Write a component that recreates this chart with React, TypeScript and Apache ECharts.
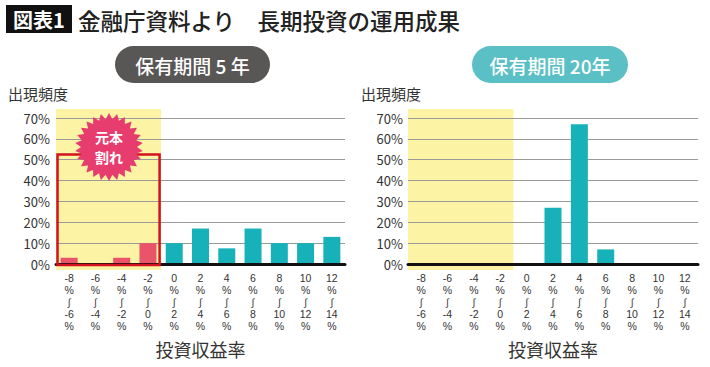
import React, { useEffect, useRef } from "react";
import * as echarts from "echarts";

const categories = [
  "-8%〜-6%", "-6%〜-4%", "-4%〜-2%", "-2%〜0%", "0%〜2%", "2%〜4%",
  "4%〜6%", "6%〜8%", "8%〜10%", "10%〜12%", "12%〜14%",
];
const hold5 = [3, 0, 3, 10, 10, 17, 7.5, 17, 10, 10, 13];
const hold20 = [0, 0, 0, 0, 0, 27, 67, 7, 0, 0, 0];
const lossCount = 4;
const yMax = 70;
const yInterval = 10;
const lossShare5 = 52.5;

const FONT = '"Noto Sans CJK JP", "Noto Sans", "DejaVu Sans", sans-serif';
const LABEL_FONT = '"Liberation Sans", "DejaVu Sans", sans-serif';
const TEAL = "#17b1ba";
const PINK = "#e9546b";
const YELLOW = "#fdf3a4";

function fmtLabel(s: string) {
  const [a, b] = s.split("〜");
  const part = (p: string) => "{n|" + p.replace("%", "") + "}\n{n|%}";
  return part(a) + "\n{t|∫}\n" + part(b);
}

function makeXAxis(gridIndex: number) {
  return {
    type: "category",
    gridIndex,
    data: categories,
    axisTick: { show: false },
    axisLine: { lineStyle: { color: "#111", width: 3 } },
    axisLabel: {
      interval: 0,
      formatter: fmtLabel,
      margin: 8,
      rich: {
        n: { fontFamily: LABEL_FONT, fontSize: 10.5, lineHeight: 11.9, color: "#333" },
        t: { fontFamily: LABEL_FONT, fontSize: 10.5, lineHeight: 11.9, color: "#444" },
      },
    },
    name: "投資収益率",
    nameLocation: "middle",
    nameGap: 76,
    nameTextStyle: { fontFamily: FONT, fontSize: 18, color: "#333" },
    z: 3,
  };
}

function makeYAxis(gridIndex: number, margin: number) {
  return {
    type: "value",
    gridIndex,
    min: 0,
    max: yMax,
    interval: yInterval,
    axisLine: { show: false },
    axisTick: { show: false },
    splitLine: { lineStyle: { color: "#9a9a9a", width: 1 } },
    axisLabel: {
      formatter: "{value}%",
      fontFamily: FONT,
      fontSize: 13,
      color: "#333",
      margin,
    },
  };
}

export default function App() {
  const ref = useRef<HTMLDivElement>(null);
  useEffect(() => {
    document.body.style.margin = "0";
    const chart = echarts.init(ref.current!, undefined, { renderer: "svg" });
    chart.setOption({
      animation: false,
      backgroundColor: "#fff",
      grid: [
        { left: 56, right: 365, top: 118, bottom: 103 },
        { left: 408, right: 12, top: 118, bottom: 103 },
      ],
      xAxis: [makeXAxis(0), makeXAxis(1)],
      yAxis: [makeYAxis(0, 6), makeYAxis(1, 5)],
      series: [
        {
          type: "bar",
          xAxisIndex: 0,
          yAxisIndex: 0,
          barWidth: 17,
          z: 2,
          data: hold5.map((v, i) => ({
            value: v,
            itemStyle: { color: i < lossCount ? PINK : TEAL },
          })),
        },
        {
          type: "bar",
          xAxisIndex: 1,
          yAxisIndex: 1,
          barWidth: 17,
          z: 2,
          data: hold20.map((v, i) => ({
            value: v,
            itemStyle: { color: i < lossCount ? PINK : TEAL },
          })),
        },
      ],
    });

    const px = (ax: number, cat: string) =>
      chart.convertToPixel({ xAxisIndex: ax } as any, cat) as unknown as number;
    const py = (ax: number, v: number) =>
      chart.convertToPixel({ yAxisIndex: ax } as any, v) as unknown as number;

    const graphics: any[] = [];
    [0, 1].forEach((ax) => {
      const c0 = px(ax, categories[0]);
      const c1 = px(ax, categories[1]);
      const band = c1 - c0;
      const left = c0 - band / 2;
      const right = px(ax, categories[lossCount - 1]) + band / 2;
      const top = py(ax, yMax) - 9;
      const bottom = py(ax, 0) + 6;
      graphics.push({
        type: "rect",
        z: -10,
        shape: { x: left, y: top, width: right - left, height: bottom - top },
        style: { fill: YELLOW },
      });
      if (ax === 0) {
        const rt = py(ax, lossShare5);
        const rb = py(ax, 0) + 1;
        graphics.push({
          type: "rect",
          z: 50,
          shape: { x: left + 1.5, y: rt, width: right - left - 3, height: rb - rt },
          style: { fill: "none", stroke: "#d2121e", lineWidth: 2.5 },
        });
      }
    });

    // starburst
    const cx = 109, cy = 147, ro = 34, ri = 28, n = 26;
    const pts: number[][] = [];
    for (let i = 0; i < n * 2; i++) {
      const r = i % 2 === 0 ? ro : ri;
      const a = (Math.PI * i) / n - Math.PI / 2;
      pts.push([cx + r * Math.cos(a), cy + r * Math.sin(a)]);
    }
    graphics.push({
      type: "polygon",
      z: 60,
      shape: { points: pts },
      style: { fill: "#e73c6e" },
    });
    graphics.push({
      type: "text",
      z: 61,
      x: cx,
      y: cy,
      style: {
        text: "元本\n割れ",
        fill: "#fff",
        font: `bold 14px ${FONT}`,
        lineHeight: 20.5,
        align: "center",
        verticalAlign: "middle",
      },
    });

    // title
    graphics.push({
      type: "rect",
      z: 60,
      shape: { x: 6, y: 5, width: 66, height: 28 },
      style: { fill: "#111" },
    });
    graphics.push({
      type: "text",
      z: 61,
      x: 39,
      y: 19,
      style: {
        text: "図表1",
        fill: "#fff",
        font: `bold 20px ${FONT}`,
        align: "center",
        verticalAlign: "middle",
      },
    });
    graphics.push({
      type: "text",
      z: 61,
      x: 78,
      y: 20,
      style: {
        text: "金融庁資料より　長期投資の運用成果",
        fill: "#222",
        font: `500 22.5px ${FONT}`,
        align: "left",
        verticalAlign: "middle",
      },
    });

    // pills
    const pills = [
      { x: 115, w: 155, fill: "#595656", text: "保有期間 5 年" },
      { x: 472, w: 156, fill: "#5bc0c5", text: "保有期間 20年" },
    ];
    pills.forEach((p) => {
      graphics.push({
        type: "rect",
        z: 60,
        shape: { x: p.x, y: 46, width: p.w, height: 37, r: 18.5 },
        style: { fill: p.fill },
      });
      graphics.push({
        type: "text",
        z: 61,
        x: p.x + p.w / 2,
        y: 65,
        style: {
          text: p.text,
          fill: "#fff",
          font: `500 19px ${FONT}`,
          align: "center",
          verticalAlign: "middle",
        },
      });
    });

    // y axis titles
    [8, 361].forEach((x) => {
      graphics.push({
        type: "text",
        z: 61,
        x,
        y: 93,
        style: {
          text: "出現頻度",
          fill: "#333",
          font: `15px ${FONT}`,
          align: "left",
          verticalAlign: "middle",
        },
      });
    });

    chart.setOption({ graphic: { elements: graphics } });
    return () => chart.dispose();
  }, []);
  return <div ref={ref} style={{ width: 710, height: 367 }} />;
}
